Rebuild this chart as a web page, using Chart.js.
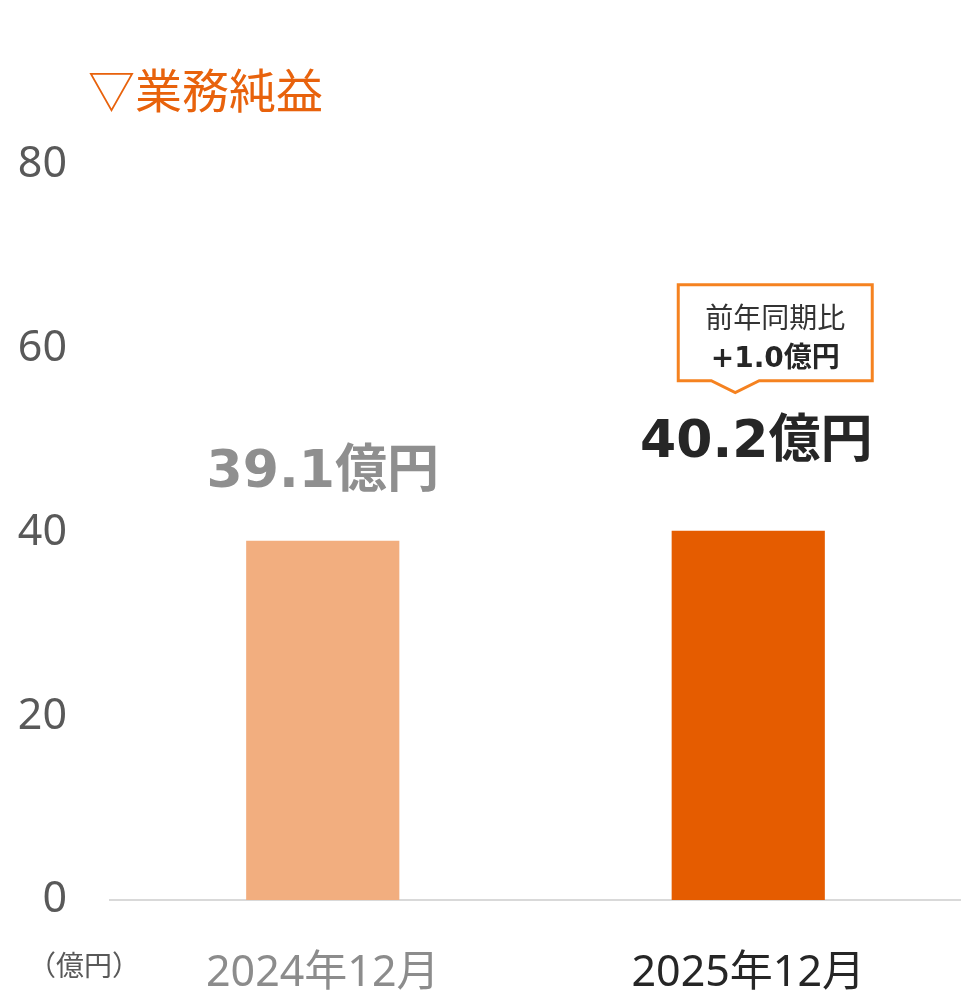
<!DOCTYPE html>
<html lang="ja">
<head>
<meta charset="utf-8">
<title>業務純益</title>
<script src="https://cdn.jsdelivr.net/npm/chart.js@4.4.1/dist/chart.umd.min.js"></script>
<style>
  html, body { margin: 0; padding: 0; background: #fff; }
  #chart-container { position: relative; width: 961px; height: 990px; }
</style>
</head>
<body>
<div id="chart-container"><canvas id="profit-chart" width="961" height="990"></canvas></div>
<script>
// data
const chartTitle = '▽業務純益';
const periods = ['2024年12月', '2025年12月'];
const profitValues = [39.1, 40.2];
const yTicks = [0, 20, 40, 60, 80];
const unitLabel = '（億円）';
const compareTitle = '前年同期比';
const compareValue = '+1.0億円';

const barColors = ['#f2ae7f', '#e55c00'];
const periodColors = ['#8c8c8c', '#262626'];
const valueColors = ['#8f8f8f', '#262626'];

const CJK = '"Noto Sans CJK JP"';

const annotationPlugin = {
    id: 'annotations',
    afterDatasetsDraw(chart) {
        const ctx = chart.ctx;
        const area = chart.chartArea;
        const bars = chart.getDatasetMeta(0).data;

        ctx.save();

        // title
        ctx.fillStyle = '#e8620c';
        ctx.font = `47px ${CJK}`;
        ctx.textAlign = 'left';
        ctx.textBaseline = 'middle';
        ctx.fillText(chartTitle, area.left - 22, area.top - 75);

        // unit
        ctx.fillStyle = '#595959';
        ctx.font = `28px ${CJK}`;
        ctx.fillText(unitLabel, area.left - 82, area.bottom + 65);

        // value labels above bars
        ctx.textAlign = 'center';
        const lift = [67, 87];
        const shift = [0, 8];
        bars.forEach((bar, i) => {
            ctx.fillStyle = valueColors[i];
            ctx.font = `bold 52px "DejaVu Sans", ${CJK}`;
            ctx.fillText(profitValues[i].toFixed(1) + '億円', bar.x + shift[i], bar.y - lift[i]);
        });

        // callout over the latest bar
        const last = bars[bars.length - 1];
        const L = last.x - 70, R = L + 194;
        const B = last.y - 150, T = B - 96;
        const px = L + 57;
        ctx.beginPath();
        ctx.moveTo(L, T);
        ctx.lineTo(R, T);
        ctx.lineTo(R, B);
        ctx.lineTo(px + 24, B);
        ctx.lineTo(px, B + 12);
        ctx.lineTo(px - 24, B);
        ctx.lineTo(L, B);
        ctx.closePath();
        ctx.fillStyle = '#fff';
        ctx.fill();
        ctx.lineWidth = 3;
        ctx.strokeStyle = '#f58220';
        ctx.lineJoin = 'miter';
        ctx.stroke();

        const cx = (L + R) / 2;
        ctx.fillStyle = '#333';
        ctx.font = `28px ${CJK}`;
        ctx.fillText(compareTitle, cx, T + 33);
        ctx.fillStyle = '#262626';
        ctx.font = `bold 28px "DejaVu Sans", ${CJK}`;
        ctx.fillText(compareValue, cx, T + 75);

        ctx.restore();
    }
};

const ctx = document.getElementById('profit-chart').getContext('2d');
new Chart(ctx, {
    type: 'bar',
    data: {
        labels: periods,
        datasets: [{
            data: profitValues,
            backgroundColor: barColors,
            borderWidth: 0,
            barPercentage: 0.36,
            categoryPercentage: 1
        }]
    },
    options: {
        responsive: false,
        animation: false,
        devicePixelRatio: 1,
        layout: { padding: { top: 165, right: 0, left: 0, bottom: 0 } },
        plugins: {
            legend: { display: false },
            tooltip: { enabled: false }
        },
        scales: {
            x: {
                grid: { display: false },
                border: { display: true, color: '#d9d9d9', width: 2 },
                ticks: {
                    padding: 40,
                    font: { family: '"Noto Sans", "Noto Sans CJK JP"', size: 43 },
                    color: (c) => periodColors[c.index]
                },
                afterFit(scale) { scale.height = 90; }
            },
            y: {
                min: 0,
                max: 80,
                afterBuildTicks(scale) { scale.ticks = yTicks.map(v => ({ value: v })); },
                grid: { display: false },
                border: { display: false },
                ticks: {
                    padding: 35,
                    font: { family: '"Noto Sans"', size: 43 },
                    color: '#595959'
                },
                afterFit(scale) { scale.width = 110; }
            }
        }
    },
    plugins: [annotationPlugin]
});
</script>
</body>
</html>
